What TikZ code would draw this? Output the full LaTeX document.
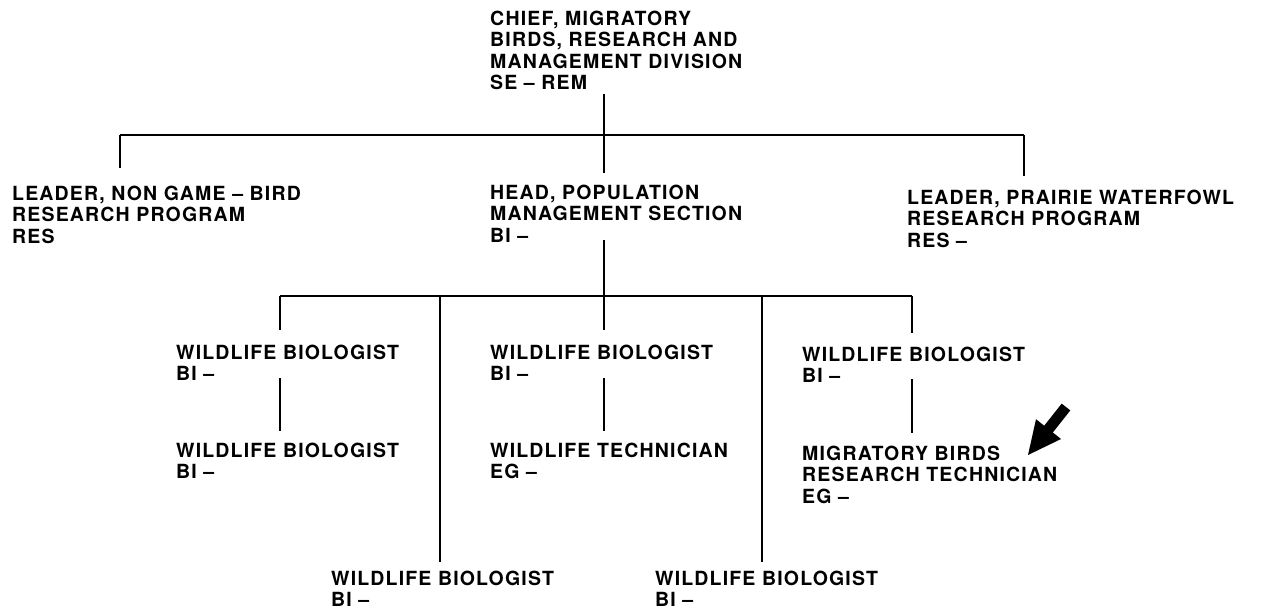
\documentclass[tikz,border=0pt]{standalone}
\usepackage{fontspec}
\newfontfamily\chartfont{TeX Gyre Heros}[LetterSpace=6]
\begin{document}
\begin{tikzpicture}[x=1pt,y=-1pt,
  post/.style={anchor=north west, inner sep=0pt, align=left,
    font=\chartfont\bfseries\fontsize{19.5}{21.5}\selectfont},
  wire/.style={line width=1.7pt}]
\useasboundingbox (0,0) rectangle (1265,613);

% ---- positions ----
\node[post] (chief) at (490,10.5) {CHIEF, MIGRATORY\\BIRDS, RESEARCH AND\\MANAGEMENT DIVISION\\SE – REM};
\node[post] (nongame) at (12,185.5) {LEADER, NON GAME – BIRD\\RESEARCH PROGRAM\\RES};
\node[post] (head) at (490,184.5) {HEAD, POPULATION\\MANAGEMENT SECTION\\BI –};
\node[post] (prairie) at (907,189.5) {LEADER, PRAIRIE WATERFOWL\\RESEARCH PROGRAM\\RES –};

\node[post] (bioA) at (176,344.5) {WILDLIFE BIOLOGIST\\BI –};
\node[post] (bioB) at (490,344.5) {WILDLIFE BIOLOGIST\\BI –};
\node[post] (bioC) at (802,346.5) {WILDLIFE BIOLOGIST\\BI –};

\node[post] (bioD) at (176,442.5) {WILDLIFE BIOLOGIST\\BI –};
\node[post] (techE) at (490,442.5) {WILDLIFE TECHNICIAN\\EG –};
\node[post] (techF) at (802,445.5) {MIGRATORY BIRDS\\RESEARCH TECHNICIAN\\EG –};

\node[post] (bioG) at (331,570.5) {WILDLIFE BIOLOGIST\\BI –};
\node[post] (bioH) at (655,570.5) {WILDLIFE BIOLOGIST\\BI –};

% ---- line junctions ----
\coordinate (chiefFoot) at (604,94);
\coordinate (headTop)   at (604,173);
\coordinate (busL)      at (120,135);
\coordinate (busR)      at (1024,135);
\coordinate (nongameTop) at (120,168);
\coordinate (prairieTop) at (1024,176);

\coordinate (headFoot) at (604,240);
\coordinate (bioBTop)  at (604,330);
\coordinate (bus2L)    at (280,296);
\coordinate (bus2R)    at (912,296);
\coordinate (bus2G)    at (440,296);
\coordinate (bus2H)    at (762,296);
\coordinate (bioATop)  at (280,330);
\coordinate (bioCTop)  at (912,333);
\coordinate (bioGTop)  at (440,562);
\coordinate (bioHTop)  at (762,562);

\coordinate (bioAFoot) at (280,378);
\coordinate (bioDTop)  at (280,431);
\coordinate (bioBFoot) at (604,378);
\coordinate (techETop) at (604,431);
\coordinate (bioCFoot) at (912,379);
\coordinate (techFTop) at (912,433);

% ---- connectors ----
\draw[wire] (chiefFoot) -- (headTop);
\draw[wire] (busL) -- (busR);
\draw[wire] (busL) -- (nongameTop);
\draw[wire] (busR) -- (prairieTop);

\draw[wire] (headFoot) -- (bioBTop);
\draw[wire] (bus2L) -- (bus2R);
\draw[wire] (bus2L) -- (bioATop);
\draw[wire] (bus2R) -- (bioCTop);
\draw[wire] (bus2G) -- (bioGTop);
\draw[wire] (bus2H) -- (bioHTop);

\draw[wire] (bioAFoot) -- (bioDTop);
\draw[wire] (bioBFoot) -- (techETop);
\draw[wire] (bioCFoot) -- (techFTop);

% ---- pointer arrow ----
\fill (1061.7,403.6) -- (1070.3,410.4) -- (1052.8,432.5) -- (1061.0,439.0)
  -- (1028,455) -- (1036.0,419.2) -- (1044.2,425.7) -- cycle;
\end{tikzpicture}
\end{document}
